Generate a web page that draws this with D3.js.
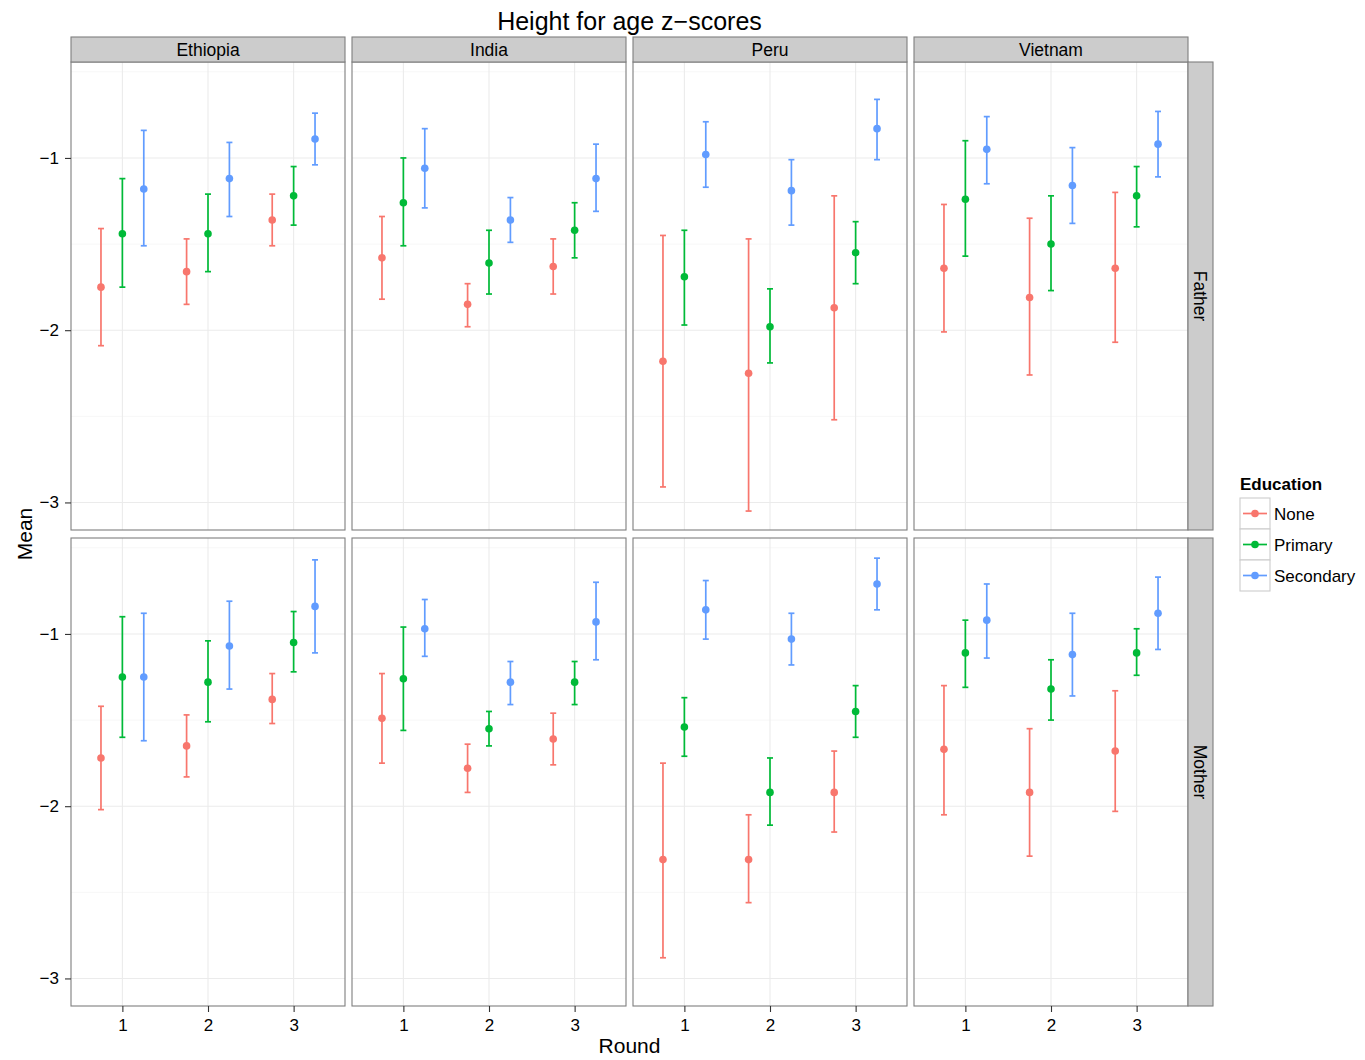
<!DOCTYPE html>
<html>
<head>
<meta charset="utf-8">
<script src="https://cdn.jsdelivr.net/npm/d3@7"></script>
<style>
body { margin: 0; background: #fff; }
svg { font-family: "Liberation Sans", Arial, Helvetica, sans-serif; }
</style>
</head>
<body>
<div id="chart"></div>
<script>
// facets and groups
const countries = ["Ethiopia", "India", "Peru", "Vietnam"];
const parents = ["Father", "Mother"];
const rounds = [1, 2, 3];
const education = ["None", "Primary", "Secondary"];
const eduColors = ["#F8766D", "#00BA38", "#619CFF"];
const yTicks = [-1, -2, -3];

// each row = one education level; 12 values = Ethiopia r1-3, India r1-3, Peru r1-3, Vietnam r1-3
const meanFather = [
  [-1.75, -1.66, -1.36, -1.58, -1.85, -1.63, -2.18, -2.25, -1.87, -1.64, -1.81, -1.64],
  [-1.44, -1.44, -1.22, -1.26, -1.61, -1.42, -1.69, -1.98, -1.55, -1.24, -1.50, -1.22],
  [-1.18, -1.12, -0.89, -1.06, -1.36, -1.12, -0.98, -1.19, -0.83, -0.95, -1.16, -0.92]
];
const lowFather = [
  [-2.09, -1.85, -1.51, -1.82, -1.98, -1.79, -2.91, -3.05, -2.52, -2.01, -2.26, -2.07],
  [-1.75, -1.66, -1.39, -1.51, -1.79, -1.58, -1.97, -2.19, -1.73, -1.57, -1.77, -1.40],
  [-1.51, -1.34, -1.04, -1.29, -1.49, -1.31, -1.17, -1.39, -1.01, -1.15, -1.38, -1.11]
];
const highFather = [
  [-1.41, -1.47, -1.21, -1.34, -1.73, -1.47, -1.45, -1.47, -1.22, -1.27, -1.35, -1.20],
  [-1.12, -1.21, -1.05, -1.00, -1.42, -1.26, -1.42, -1.76, -1.37, -0.90, -1.22, -1.05],
  [-0.84, -0.91, -0.74, -0.83, -1.23, -0.92, -0.79, -1.01, -0.66, -0.76, -0.94, -0.73]
];
const meanMother = [
  [-1.72, -1.65, -1.38, -1.49, -1.78, -1.61, -2.31, -2.31, -1.92, -1.67, -1.92, -1.68],
  [-1.25, -1.28, -1.05, -1.26, -1.55, -1.28, -1.54, -1.92, -1.45, -1.11, -1.32, -1.11],
  [-1.25, -1.07, -0.84, -0.97, -1.28, -0.93, -0.86, -1.03, -0.71, -0.92, -1.12, -0.88]
];
const lowMother = [
  [-2.02, -1.83, -1.52, -1.75, -1.92, -1.76, -2.88, -2.56, -2.15, -2.05, -2.29, -2.03],
  [-1.60, -1.51, -1.22, -1.56, -1.65, -1.41, -1.71, -2.11, -1.60, -1.31, -1.50, -1.24],
  [-1.62, -1.32, -1.11, -1.13, -1.41, -1.15, -1.03, -1.18, -0.86, -1.14, -1.36, -1.09]
];
const highMother = [
  [-1.42, -1.47, -1.23, -1.23, -1.64, -1.46, -1.75, -2.05, -1.68, -1.30, -1.55, -1.33],
  [-0.90, -1.04, -0.87, -0.96, -1.45, -1.16, -1.37, -1.72, -1.30, -0.92, -1.15, -0.97],
  [-0.88, -0.81, -0.57, -0.80, -1.16, -0.70, -0.69, -0.88, -0.56, -0.71, -0.88, -0.67]
];

const seriesByParent = {
  Father: {mean: meanFather, low: lowFather, high: highFather},
  Mother: {mean: meanMother, low: lowMother, high: highMother}
};

// flatten into rows
let rows = [];
parents.forEach(p => {
  let s = seriesByParent[p];
  education.forEach((e, ei) => {
    countries.forEach((c, ci) => {
      rounds.forEach((r, ri) => {
        let k = ci * 3 + ri;
        rows.push({parent: p, country: c, edu: e, ei: ei, round: r,
          mean: s.mean[ei][k], low: s.low[ei][k], high: s.high[ei][k]});
      });
    });
  });
});

let width = 1365, height = 1060;
let panelLeft = 71, panelTop = 62, panelW = 274, panelH = 468, gap = 7;
let stripH = 25, stripW = 25;

let svg = d3.select("#chart").append("svg")
  .attr("width", width)
  .attr("height", height);

let x = d3.scaleLinear().domain([0.4, 3.6]).range([0, panelW]);
let y = d3.scaleLinear().domain([-3.16, -0.443]).range([panelH, 0]);
let dodge = d3.scaleOrdinal().domain(education).range([-0.25, 0, 0.25]);
let color = d3.scaleOrdinal().domain(education).range(eduColors);

parents.forEach((p, pi) => {
  countries.forEach((c, ci) => {
    let px = panelLeft + ci * (panelW + gap);
    let py = panelTop + pi * (panelH + gap + 1);
    let g = svg.append("g").attr("transform", "translate(" + px + "," + py + ")");

    g.append("rect").attr("width", panelW).attr("height", panelH).attr("fill", "#fff");

    // minor grid
    g.selectAll(".minor").data([-0.5, -1.5, -2.5]).enter().append("line")
      .attr("x1", 0).attr("x2", panelW)
      .attr("y1", d => y(d)).attr("y2", d => y(d))
      .attr("stroke", "#f7f7f7").attr("stroke-width", 1);
    // major grid
    g.selectAll(".hgrid").data(yTicks).enter().append("line")
      .attr("x1", 0).attr("x2", panelW)
      .attr("y1", d => y(d)).attr("y2", d => y(d))
      .attr("stroke", "#ebebeb").attr("stroke-width", 1.1);
    g.selectAll(".vgrid").data(rounds).enter().append("line")
      .attr("y1", 0).attr("y2", panelH)
      .attr("x1", d => x(d)).attr("x2", d => x(d))
      .attr("stroke", "#ebebeb").attr("stroke-width", 1.1);

    let data = rows.filter(d => d.parent === p && d.country === c);
    let bars = g.selectAll(".eb").data(data).enter().append("g")
      .attr("stroke", d => color(d.edu))
      .attr("stroke-width", 1.7);
    bars.append("line")
      .attr("x1", d => x(d.round + dodge(d.edu))).attr("x2", d => x(d.round + dodge(d.edu)))
      .attr("y1", d => y(d.low)).attr("y2", d => y(d.high));
    bars.append("line")
      .attr("x1", d => x(d.round + dodge(d.edu)) - 3).attr("x2", d => x(d.round + dodge(d.edu)) + 3)
      .attr("y1", d => y(d.low)).attr("y2", d => y(d.low));
    bars.append("line")
      .attr("x1", d => x(d.round + dodge(d.edu)) - 3).attr("x2", d => x(d.round + dodge(d.edu)) + 3)
      .attr("y1", d => y(d.high)).attr("y2", d => y(d.high));
    g.selectAll(".pt").data(data).enter().append("circle")
      .attr("cx", d => x(d.round + dodge(d.edu)))
      .attr("cy", d => y(d.mean))
      .attr("r", 3.8)
      .attr("fill", d => color(d.edu));

    g.append("rect").attr("width", panelW).attr("height", panelH)
      .attr("fill", "none").attr("stroke", "#7f7f7f").attr("stroke-width", 1.1);

    // left axis
    if (ci === 0) {
      let ax = g.append("g")
        .call(d3.axisLeft(y).tickValues(yTicks).tickSize(6).tickPadding(6)
          .tickFormat(d => "\u2212" + Math.abs(d)));
      ax.select(".domain").remove();
      ax.selectAll("line").attr("stroke", "#333").attr("stroke-width", 1.1);
      ax.selectAll("text").style("font-size", "17px").attr("fill", "#000");
    }
    // bottom axis
    if (pi === 1) {
      let ax = g.append("g").attr("transform", "translate(0," + panelH + ")")
        .call(d3.axisBottom(x).tickValues(rounds).tickSize(6).tickPadding(7).tickFormat(d3.format("d")));
      ax.select(".domain").remove();
      ax.selectAll("line").attr("stroke", "#333").attr("stroke-width", 1.1);
      ax.selectAll("text").style("font-size", "17px").attr("fill", "#000");
    }
    // top strips
    if (pi === 0) {
      g.append("rect").attr("y", -stripH).attr("width", panelW).attr("height", stripH)
        .attr("fill", "#cccccc").attr("stroke", "#7f7f7f").attr("stroke-width", 1.1);
      g.append("text").attr("x", panelW / 2).attr("y", -stripH / 2)
        .attr("text-anchor", "middle").attr("dy", "0.36em")
        .style("font-size", "17.5px").text(c);
    }
    // right strips
    if (ci === countries.length - 1) {
      g.append("rect").attr("x", panelW).attr("width", stripW).attr("height", panelH)
        .attr("fill", "#cccccc").attr("stroke", "#7f7f7f").attr("stroke-width", 1.1);
      g.append("text")
        .attr("transform", "translate(" + (panelW + stripW / 2) + "," + (panelH / 2) + ") rotate(90)")
        .attr("text-anchor", "middle").attr("dy", "0.36em")
        .style("font-size", "17.5px").text(p);
    }
  });
});

let plotMid = panelLeft + (countries.length * panelW + (countries.length - 1) * gap) / 2;

svg.append("text").attr("x", plotMid).attr("y", 30)
  .attr("text-anchor", "middle").style("font-size", "25px").text("Height for age z\u2212scores");
svg.append("text").attr("x", plotMid).attr("y", 1053)
  .attr("text-anchor", "middle").style("font-size", "21px").text("Round");
svg.append("text").attr("transform", "translate(32,534) rotate(-90)")
  .attr("text-anchor", "middle").style("font-size", "21px").text("Mean");

// legend
let lg = svg.append("g").attr("transform", "translate(1240,490)");
lg.append("text").attr("x", 0).attr("y", 0)
  .style("font-size", "17px").style("font-weight", "bold").text("Education");
let keys = lg.selectAll(".key").data(education).enter().append("g")
  .attr("transform", (d, i) => "translate(0," + (8 + i * 31) + ")");
keys.append("rect").attr("width", 30).attr("height", 31)
  .attr("fill", "#ffffff").attr("stroke", "#cccccc").attr("stroke-width", 1.1);
keys.append("line").attr("x1", 3).attr("x2", 27).attr("y1", 15.5).attr("y2", 15.5)
  .attr("stroke", d => color(d)).attr("stroke-width", 1.7);
keys.append("circle").attr("cx", 15).attr("cy", 15.5).attr("r", 3.8).attr("fill", d => color(d));
keys.append("text").attr("x", 34).attr("y", 15.5).attr("dy", "0.36em")
  .style("font-size", "17px").text(d => d);
</script>
</body>
</html>
